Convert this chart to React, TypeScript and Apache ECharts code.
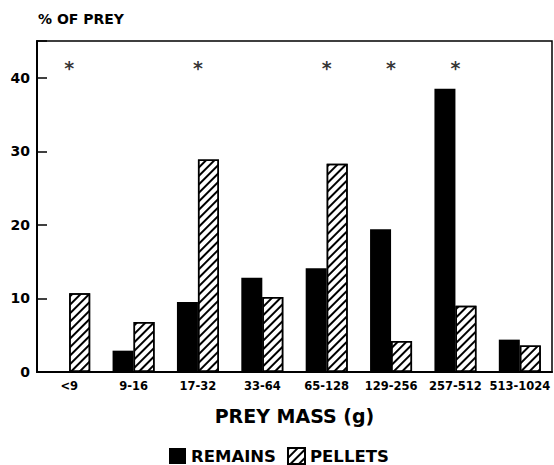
import React, { useEffect, useRef } from "react";
import * as echarts from "echarts";

const categories = ["<9", "9-16", "17-32", "33-64", "65-128", "129-256", "257-512", "513-1024"];
const remains = [0, 2.9, 9.5, 12.8, 14.1, 19.4, 38.5, 4.4];
const pellets = [10.7, 6.8, 28.9, 10.2, 28.3, 4.2, 9.0, 3.6];
const significant = ["<9", "17-32", "65-128", "129-256", "257-512"];
const asteriskLevel = 41.3;
const yTicks = [0, 10, 20, 30, 40];

const FONT = '"DejaVu Sans", sans-serif';

export default function App() {
  const ref = useRef<HTMLDivElement>(null);
  useEffect(() => {
    if (!ref.current) return;
    const chart = echarts.init(ref.current, undefined, { renderer: "svg" });
    const hatch = {
      symbol: "rect",
      symbolSize: 1,
      color: "#000",
      backgroundColor: "#fff",
      dashArrayX: [1, 0],
      dashArrayY: [1.4, 3.8],
      rotation: -Math.PI / 4,
    };
    chart.setOption({
      animation: false,
      backgroundColor: "#fff",
      grid: {
        left: 37,
        right: 2,
        top: 41,
        bottom: 93,
        show: true,
        borderColor: "#000",
        borderWidth: 1.5,
        backgroundColor: "transparent",
      },
      graphic: [
        {
          type: "text",
          left: 38,
          top: 12,
          style: { text: "% OF PREY", font: `bold 14px ${FONT}`, fill: "#000" },
        },
      ],
      legend: {
        left: 169,
        top: 447,
        padding: 0,
        itemWidth: 17,
        itemHeight: 16,
        itemGap: 11,
        icon: "rect",
        textStyle: { fontFamily: FONT, fontWeight: "bold", fontSize: 16.5, color: "#000" },
        data: ["REMAINS", "PELLETS"],
      },
      xAxis: {
        type: "category",
        data: categories,
        name: "PREY MASS (g)",
        nameLocation: "middle",
        nameGap: 34,
        nameTextStyle: { fontFamily: FONT, fontWeight: "bold", fontSize: 19, color: "#000" },
        axisLine: { lineStyle: { color: "#000", width: 2 } },
        axisTick: { show: false },
        axisLabel: {
          interval: 0,
          margin: 8,
          fontFamily: FONT,
          fontWeight: "bold",
          fontSize: 11.5,
          color: "#000",
        },
      },
      yAxis: {
        type: "value",
        min: 0,
        max: 45,
        interval: 10,
        splitLine: { show: false },
        axisLine: { show: true, lineStyle: { color: "#000", width: 2 } },
        axisTick: { show: true, inside: true, length: 10, lineStyle: { color: "#000", width: 1.5 } },
        axisLabel: {
          margin: 7,
          fontFamily: FONT,
          fontWeight: "bold",
          fontSize: 14,
          color: "#000",
          formatter: (v: number) => (yTicks.includes(v) ? String(v) : ""),
        },
      },
      series: [
        {
          name: "REMAINS",
          type: "bar",
          data: remains,
          barWidth: 21,
          barGap: "0%",
          itemStyle: { color: "#000" },
        },
        {
          name: "PELLETS",
          type: "bar",
          data: pellets,
          barWidth: 21,
          itemStyle: { color: "#fff", borderColor: "#000", borderWidth: 1.5, decal: hatch },
        },
        {
          name: "sig",
          type: "scatter",
          data: significant.map((c) => [c, asteriskLevel]),
          symbolSize: 0,
          silent: true,
          label: {
            show: true,
            position: "inside",
            formatter: "*",
            fontFamily: FONT,
            fontWeight: "bold",
            fontSize: 19,
            color: "#000",
          },
        },
      ],
    });
    return () => chart.dispose();
  }, []);
  return (
    <div
      ref={ref}
      style={{ position: "fixed", left: 0, top: 0, width: 554, height: 465, background: "#fff" }}
    />
  );
}
